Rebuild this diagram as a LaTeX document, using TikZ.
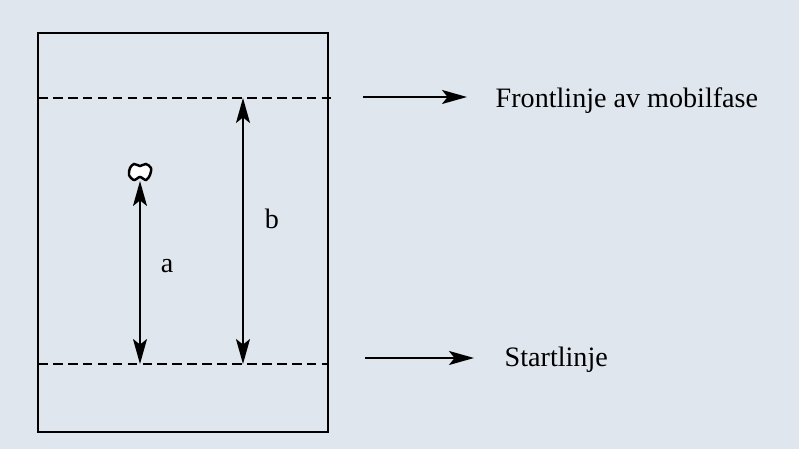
\documentclass[tikz,border=0pt]{standalone}
\usepackage{fontspec}
\setmainfont{Liberation Serif}
\usetikzlibrary{arrows.meta,positioning}
\definecolor{paper}{RGB}{224,230,238}

\begin{document}
\begin{tikzpicture}[x=0.02cm,y=-0.02cm,>={Stealth[length=5mm,width=2.8mm,inset=1.1mm]},line width=1.1pt,
    lbl/.style={font=\fontsize{16}{18}\selectfont,inner sep=1pt}]
  \useasboundingbox[fill=paper] (0,0) rectangle (799,449);
  % plate
  \draw[line width=1.2pt] (38,33) rectangle (328,432);
  \coordinate (fl) at (38,98);
  \coordinate (fr) at (331,98);
  \coordinate (sl) at (38,364);
  \coordinate (sr) at (328,364);
  \draw[dash pattern=on 5.5pt off 3pt] (fl) -- (fr);
  \draw[dash pattern=on 5.5pt off 3pt] (sl) -- (sr);
  % spot
  \coordinate (a0) at (140,364);
  \coordinate (a1) at (140,181);
  \coordinate (b0) at (243,364);
  \coordinate (b1) at (243,98);
  \draw[<->] (a0) -- (a1);
  \draw[<->] (b0) -- (b1);
  \filldraw[fill=white,line width=1.4pt] plot[smooth cycle] coordinates
    {(130,168) (134,164) (140,166) (146,164) (151,168) (150,175) (146,180) (140,177) (134,180) (129,175)};
  \node[lbl] (la) at (167,266) {a};
  \node[lbl] (lb) at (272,219) {b};
  % labels on the right
  \coordinate (ta) at (363,97);
  \coordinate (tb) at (467,97);
  \coordinate (sa) at (365,358);
  \coordinate (sb) at (474,358);
  \draw[->] (ta) -- (tb);
  \draw[->] (sa) -- (sb);
  \node[lbl,right=0.52cm of tb,yshift=-2pt] (front) {Frontlinje av mobilfase};
  \node[lbl,right=0.56cm of sb,yshift=-1pt] (start) {Startlinje};
\end{tikzpicture}
\end{document}
